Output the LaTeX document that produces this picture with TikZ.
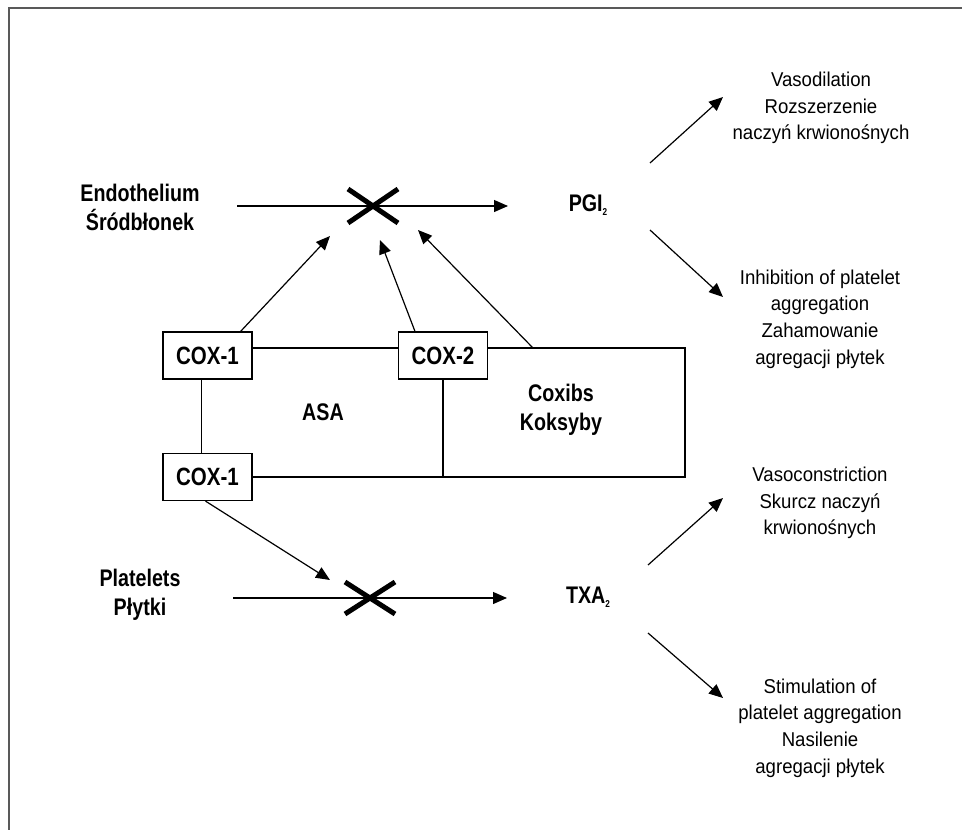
\documentclass[tikz,border=0pt]{standalone}
\usepackage{fontspec}
\setmainfont{Liberation Sans}[FakeStretch=0.93]
\newfontfamily\hbold{Liberation Sans}[FakeStretch=0.82]
\usetikzlibrary{arrows.meta}
\newcommand{\subtwo}{\raisebox{-4pt}{\fontsize{10}{10}\selectfont 2}}
\begin{document}
\begin{tikzpicture}[x=1pt,y=-1pt,
  lbl/.style={font=\hbold\bfseries\fontsize{24}{29}\selectfont, align=center, inner sep=0},
  txt/.style={font=\fontsize{20}{26.7}\selectfont, align=center, inner sep=0},
  coxbox/.style={draw, line width=1.2pt, minimum width=89pt, minimum height=47pt, inner sep=0, font=\hbold\bfseries\fontsize{25}{30}\selectfont},
  ln/.style={line width=1.2pt},
  arr/.style={line width=1.2pt, -{Triangle[length=14pt,width=12pt]}},
  crossln/.style={line width=5pt},
]
\useasboundingbox (0,0) rectangle (962,830);
\draw[gray!70!black, line width=2pt] (9,830) -- (9,8) -- (962,8);

% left labels
\node[lbl] (endo) at (140,207) {Endothelium\\Śródbłonek};
\node[lbl] (plat) at (140,595) {Platelets\\Płytki};

% products
\node[lbl] (pgi) at (588,205) {PGI\subtwo};
\node[lbl] (txa) at (588,597) {TXA\subtwo};

% boxes
\node[coxbox] (c1a) at (207.5,355.5) {COX-1};
\node[coxbox] (c2) at (443,355.5) {COX-2};
\node[coxbox] (c1b) at (207.5,477) {COX-1};
\node[lbl] (asa) at (323,412) {ASA};
\node[lbl] (cox) at (561,410) {Coxibs\\Koksyby};

% frame lines
\coordinate (rtop) at (685,348);
\coordinate (rbot) at (685,477);
\draw[ln] ([yshift=7.5pt]c1a.east) -- ([yshift=7.5pt]c2.west);
\draw[ln] ([yshift=7.5pt]c2.east) -- (rtop) -- (rbot) -- (c1b.east);
\draw[ln] (c2.south) -- (c2.south |- rbot);
\draw[ln] ([xshift=-6pt]c1a.south) -- ([xshift=-6pt]c1b.north);

% top pathway
\coordinate (es) at (237,206);
\coordinate (ee) at (508,206);
\coordinate (x1) at (373,206);
\draw[arr] (es) -- (ee);
\draw[crossln] ([shift={(-25,-17)}]x1) -- ([shift={(25,17)}]x1);
\draw[crossln] ([shift={(-25,17)}]x1) -- ([shift={(25,-17)}]x1);

% inhibition arrows
\coordinate (t1) at (330,236);
\coordinate (t2) at (380,240);
\coordinate (t3) at (418,230);
\coordinate (s3) at (533,348);
\draw[arr] ([xshift=-12pt]c1a.north east) -- (t1);
\draw[arr] ([xshift=-28pt]c2.north) -- (t2);
\draw[arr] (s3) -- (t3);

% bottom pathway
\coordinate (ps) at (233,598);
\coordinate (pe) at (507,598);
\coordinate (x2) at (370,598);
\draw[arr] (ps) -- (pe);
\draw[crossln] ([shift={(-25,-16)}]x2) -- ([shift={(25,16)}]x2);
\draw[crossln] ([shift={(-25,16)}]x2) -- ([shift={(25,-16)}]x2);
\coordinate (t4) at (330,580);
\draw[arr] ([xshift=-2pt]c1b.south) -- (t4);

% effects
\node[txt] (vd) at (821,108) {Vasodilation\\Rozszerzenie\\naczyń krwionośnych};
\node[txt] (ih) at (820,319) {Inhibition of platelet\\aggregation\\Zahamowanie\\agregacji płytek};
\node[txt] (vc) at (820,503) {Vasoconstriction\\Skurcz naczyń\\krwionośnych};
\node[txt] (st) at (820,728) {Stimulation of\\platelet aggregation\\Nasilenie\\agregacji płytek};

\coordinate (p1) at (650,163);
\coordinate (p2) at (650,230);
\coordinate (q1) at (648,565);
\coordinate (q2) at (648,633);
\draw[arr] (p1) -- (723,97) coordinate (pt1);
\draw[arr] (p2) -- (723,297) coordinate (pt2);
\draw[arr] (q1) -- (723,498) coordinate (qt1);
\draw[arr] (q2) -- (723,698) coordinate (qt2);
\end{tikzpicture}
\end{document}
